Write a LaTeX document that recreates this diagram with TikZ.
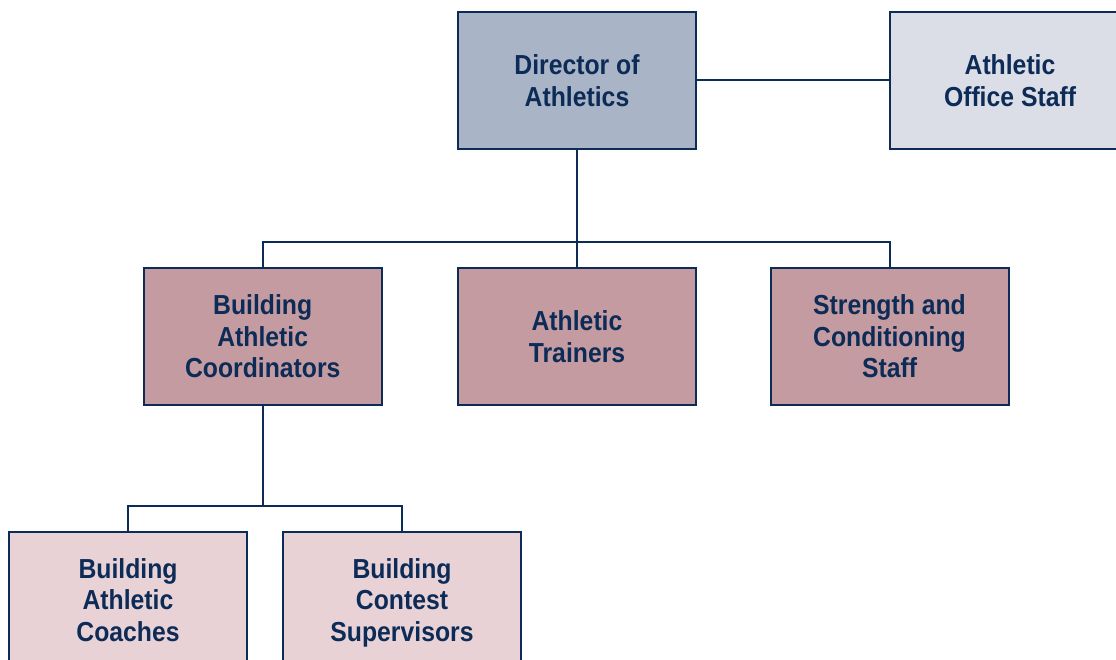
\documentclass[tikz,border=0pt]{standalone}
\usepackage{fontspec}
\setmainfont{Liberation Sans}[FakeStretch=0.9]
\definecolor{navy}{HTML}{0D2B57}
\definecolor{dirfill}{HTML}{A9B4C6}
\definecolor{stafffill}{HTML}{DCDEE7}
\definecolor{midfill}{HTML}{C49BA0}
\definecolor{lowfill}{HTML}{E8D2D6}
\tikzset{
  box/.style={draw=navy, line width=2pt, minimum width=238pt, minimum height=137pt,
    inner sep=0pt, align=center, text=navy, text depth=0pt,
    font=\fontsize{27.5}{31.5}\selectfont\bfseries},
  link/.style={draw=navy, line width=2pt}
}
\begin{document}
\begin{tikzpicture}[x=1pt,y=-1pt]
\useasboundingbox (0,0) rectangle (1116,660);
\clip (0,0) rectangle (1116,660);
\fill[white] (0,0) rectangle (1116,660);
\node[box, fill=dirfill] (dir) at (577,80.5) {Director of\\Athletics};
\node[box, fill=stafffill, minimum width=240pt] (aos) at (1010,80.5) {Athletic\\Office Staff};
\node[box, fill=midfill] (bca) at (262.7,336.5) {Building\\Athletic\\Coordinators};
\node[box, fill=midfill] (at) at (577,336.5) {Athletic\\Trainers};
\node[box, fill=midfill] (sc) at (889.5,336.5) {Strength and\\Conditioning\\Staff};
\node[box, fill=lowfill] (bac) at (128,600) {Building\\Athletic\\Coaches};
\node[box, fill=lowfill] (bcs) at (402,600) {Building\\Contest\\Supervisors};
\coordinate (j1) at (577,242.5);
\coordinate (j2) at (262.7,506);
\draw[link] (dir) -- (aos);
\draw[link] (dir.south) -- (at.north);
\draw[link] (bca.north) |- (j1) -| (sc.north);
\draw[link] (bca.south) -- (j2);
\draw[link] (bac.north) |- (j2) -| (bcs.north);
\end{tikzpicture}
\end{document}
